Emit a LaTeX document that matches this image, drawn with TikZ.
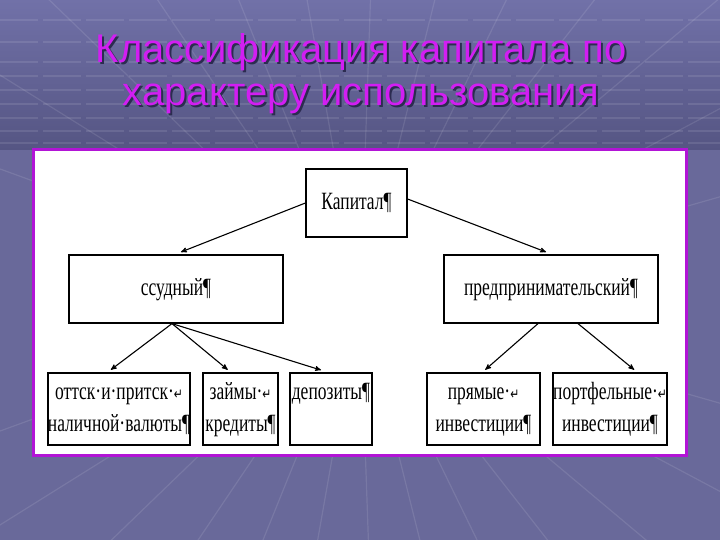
\documentclass[tikz,border=0pt]{standalone}
\usepackage{fontspec}
\setmainfont{Liberation Serif}
\newfontfamily\titlefont{Liberation Sans}
\newfontfamily\arrowfont{DejaVu Sans}
\usetikzlibrary{arrows,calc}

\definecolor{slidebg}{HTML}{69699A}
\definecolor{slidetop}{HTML}{7171A8}
\definecolor{slidemid}{HTML}{555583}
\definecolor{titlemag}{HTML}{D21EF2}
\definecolor{titleshade}{HTML}{2C2C50}
\definecolor{panelmag}{HTML}{B214D6}

\newcommand{\squeeze}[1]{\scalebox{0.76}[1.08]{\strut#1}}
\newcommand{\nl}{{\arrowfont\fontsize{14}{14}\selectfont ↵}}

\begin{document}
\begin{tikzpicture}[x=1pt,y=-1pt,>=stealth',semithick]
    \tikzstyle{box}=[draw,rectangle,line width=1.2pt,inner sep=0pt,align=center,
                     font=\fontsize{23}{29}\selectfont]
    \tikzstyle{link}=[->,line width=1.1pt,shorten >=1pt]
    \tikzstyle{gridline}=[draw=white,opacity=0.1,line width=1.2pt]
    \tikzstyle{heading}=[font=\titlefont\fontsize{40}{43}\selectfont,align=center,anchor=base]

    % background of the slide
    \useasboundingbox (0,0) rectangle (720,540);
    \fill[slidebg] (0,0) rectangle (720,540);
    \shade[top color=slidetop,bottom color=slidemid] (0,0) rectangle (720,150);
    \foreach \a in {200,212,224,236,248,260,272,284,296,308,320,332,344,
                    16,28,40,52,64,76,88,100,112,124,136,148,160}
        \draw[gridline] (360,300) -- ++(\a:800);
    \foreach \y in {20,42,62,76,90,104,118,131,143}
        \draw[gridline,dash pattern=on 38pt off 5pt] (0,\y) -- (720,\y);

    % title
    \node[heading,text=titleshade] (shade) at (363,108)
        {Классификация капитала по\\характеру использования};
    \node[heading,text=titlemag]   (title) at (361,106)
        {Классификация капитала по\\характеру использования};

    % white panel
    \draw[draw=panelmag,line width=3pt,fill=white] (33,150) rectangle (686,455);

    % boxes
    \node[box,minimum width=101pt,minimum height=68pt] (kap)   at (356.5,203) {\squeeze{Капитал¶}};
    \node[box,minimum width=214pt,minimum height=68pt] (ssud)  at (176,289)   {\squeeze{ссудный¶}};
    \node[box,minimum width=214pt,minimum height=68pt] (pred)  at (551,289)   {\squeeze{предпринимательский¶}};
    \node[box,minimum width=140pt,minimum height=72pt] (ottok) at (119,409)
        {\squeeze{оттск·и·притск·\nl}\\\squeeze{наличной·валюты¶}};
    \node[box,minimum width=75pt,minimum height=72pt]  (zaim)  at (240.5,409)
        {\squeeze{займы·\nl}\\\squeeze{кредиты¶}};
    \node[box,minimum width=82pt,minimum height=72pt]  (depoz) at (331,409)
        {\squeeze{депозиты¶}\\\squeeze{}};
    \node[box,minimum width=113pt,minimum height=72pt] (pryam) at (483.5,409)
        {\squeeze{прямые·\nl}\\\squeeze{инвестиции¶}};
    \node[box,minimum width=114pt,minimum height=72pt] (portf) at (610,409)
        {\squeeze{портфельные·\nl}\\\squeeze{инвестиции¶}};

    % arrows
    \path[link] (kap.west) edge ($(ssud.north)+(4,-2)$)
                ($(kap.east)+(0,-4)$) edge ($(pred.north)+(-4,-2)$)
                ($(ssud.south)+(-4,0)$) edge ($(ottok.north)+(-9,-2)$)
                ($(ssud.south)+(-4,0)$) edge ($(zaim.north)+(-12,-2)$)
                ($(ssud.south)+(-4,0)$) edge ($(depoz.north)+(-9,-2)$)
                ($(pred.south)+(-13,0)$) edge ($(pryam.north)+(1,-2)$)
                ($(pred.south)+(27,0)$) edge ($(portf.north)+(25,-2)$);
\end{tikzpicture}
\end{document}
